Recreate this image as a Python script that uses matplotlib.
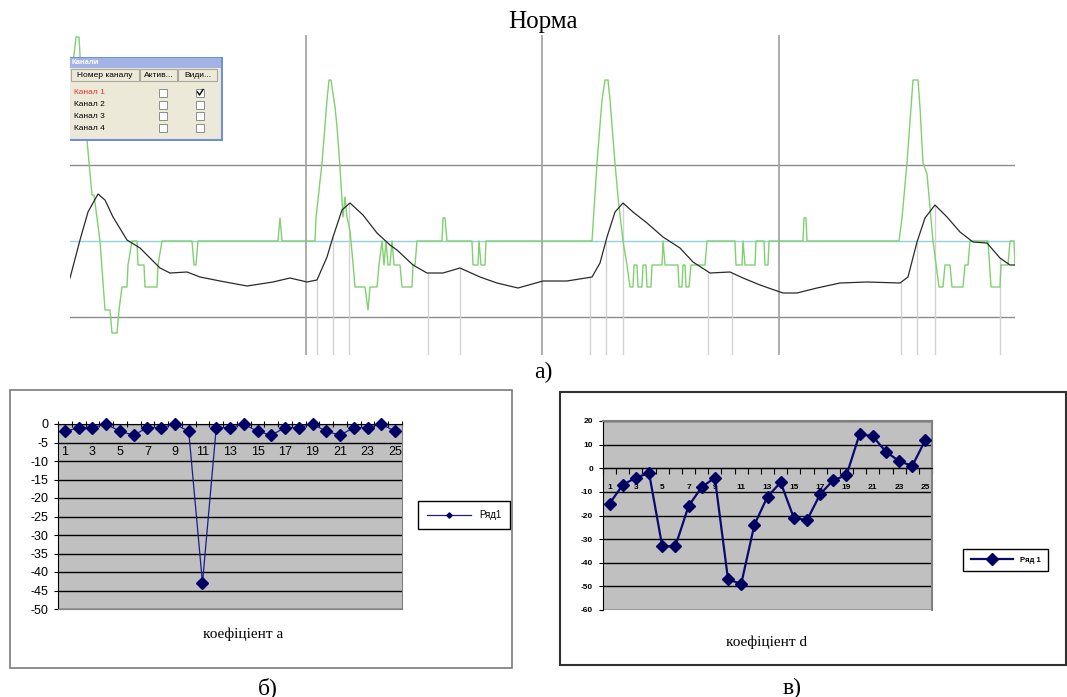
import numpy as np
import matplotlib
matplotlib.use('Agg')
import matplotlib.pyplot as plt
from matplotlib.patches import Rectangle

W, H = 1067, 697

# top record: sample index and amplitude (arbitrary units)
black_t = [0, 10, 18, 28, 35, 43, 57, 70, 80, 90, 100, 117, 130, 150, 177, 203, 220, 237,
           247, 257, 263, 272, 280, 293, 307, 320, 327, 343, 357, 373, 390, 410, 427, 448,
           473, 497, 522, 530, 537, 545, 553, 563, 577, 593, 610, 623, 640, 660, 673, 690,
           713, 727, 747, 770, 797, 830, 838, 847, 855, 865, 877, 890, 903, 917, 930, 940, 945]
black_v = [-37, 1, 29, 47, 41, 24, 1, -7, -17, -27, -32, -31, -36, -40, -45, -41, -37, -41,
           -39, -16, 4, 31, 38, 26, 8, -4, -9, -24, -32, -32, -27, -36, -42, -47,
           -40, -40, -36, -22, 4, 29, 38, 29, 18, 4, -7, -21, -32, -31, -37, -44,
           -52, -52, -47, -42, -41, -42, -36, -1, 23, 36, 24, 9, -1, -2, -17, -24, -24]

green_t = [0, 6, 9, 12, 17, 22, 24, 30, 35, 40, 42, 47, 49, 52, 57, 58, 62, 67, 68, 74, 75,
           87, 88, 92, 122, 124, 126, 128, 208, 210, 212, 245, 246, 252, 257, 259, 261, 265,
           267, 270, 273, 275, 277, 280, 283, 285, 295, 298, 300, 307, 309, 312, 314, 316,
           318, 320, 322, 324, 330, 332, 342, 343, 345, 347, 372, 373, 375, 377, 402, 403,
           408, 409, 411, 415, 416, 522, 527, 532, 535, 538, 540, 545, 548, 553, 557, 560,
           563, 564, 567, 568, 572, 573, 576, 577, 581, 582, 592, 593, 595, 608, 609, 612,
           613, 615, 616, 619, 621, 635, 637, 665, 666, 672, 673, 675, 685, 686, 694, 695,
           698, 699, 733, 734, 736, 737, 829, 832, 837, 843, 848, 850, 853, 857, 863, 869,
           873, 875, 880, 882, 893, 895, 898, 900, 918, 921, 930, 931, 938, 940, 944, 945]
green_v = [150, 204, 204, 150, 101, 46, 46, 0, -69, -69, -92, -92, -69, -46, -46, -24, 0, 0,
           -24, -24, -46, -46, -24, 0, 0, -24, -24, 0, 0, 23, 0, 0, 23, 78, 141, 161, 161,
           134, 114, 74, 24, 44, 24, 10, -22, -46, -46, -69, -46, -46, -24, 0, -24, 0, -24,
           -24, 0, -24, -24, -46, -46, -24, -24, 0, 0, 23, 23, 0, 0, -24, -24, 0, -24, -24,
           0, 0, 78, 141, 161, 161, 141, 78, 44, 0, -24, -46, -46, -24, -24, -46, -46, -24,
           -24, -46, -46, -24, -24, 0, -24, -24, -46, -46, -24, -24, -46, -46, -24, -24, 0,
           0, -24, -24, 0, -24, -24, 0, 0, -24, -24, 0, 0, 23, 23, 0, 0, 23, 78, 161, 161,
           134, 78, 67, 0, -46, -46, -24, -24, -46, -46, -24, -24, 0, 0, -46, -46, -24, -24,
           0, 0, -24]

drop_t = [247, 263, 279, 358, 390, 520, 536, 553, 638, 662, 831, 847, 865, 930]
cursor_t = [236, 472, 709]
level_v = [-76, 76]

channels = ['Канал 1', 'Канал 2', 'Канал 3', 'Канал 4']
columns = ['Номер каналу', 'Актив...', 'Види...']

num = list(range(1, 26))
coef_a = [-2, -1, -1, 0, -2, -3, -1, -1, 0, -2, -43, -1, -1, 0, -2, -3, -1, -1, 0, -2,
          -3, -1, -1, 0, -2]
coef_d = [-15, -7, -4, -2, -33, -33, -16, -8, -4, -47, -49, -24, -12, -6, -21, -22, -11,
          -5, -3, 14.5, 13.5, 7, 3, 1, 12]


def box(x0, y0, x1, y1):
    return [x0 / W, 1 - y1 / H, (x1 - x0) / W, (y1 - y0) / H]


plt.rcParams['font.family'] = ['Liberation Sans', 'DejaVu Sans']
plt.rcParams['axes.unicode_minus'] = False
serif = 'Liberation Serif'

fig = plt.figure(figsize=(W / 100, H / 100), dpi=100)

# ---- a) signal record
ax = fig.add_axes(box(70, 35, 1015, 355))
ax.set_xlim(0, 945)
ax.set_ylim(-114, 206)
ax.axis('off')
for lv in level_v:
    ax.axhline(lv, color='#8c8c8c', lw=1)
ax.axhline(0, color='#92d2dc', lw=1)
for c in cursor_t:
    ax.axvline(c, color='#a0a0a0', lw=1.2)
ax.vlines(drop_t, -114, np.interp(drop_t, black_t, black_v), color='#d2d2d2', lw=1)
ax.plot(green_t, green_v, color='#80d070', lw=1)
ax.plot(black_t, black_v, color='#2a2a2a', lw=0.9)

fig.text(543 / W, 1 - 22 / H, 'Норма', family=serif, fontsize=18, ha='center', va='center')
fig.text(543 / W, 1 - 372 / H, 'а)', family=serif, fontsize=17, ha='center', va='center')
fig.text(268 / W, 1 - 688 / H, 'б)', family=serif, fontsize=17, ha='center', va='center')
fig.text(792 / W, 1 - 688 / H, 'в)', family=serif, fontsize=17, ha='center', va='center')

# channel window
wa = fig.add_axes(box(70, 57, 223, 141))
wa.set_xlim(70, 223)
wa.set_ylim(141, 57)
wa.axis('off')
wa.add_patch(Rectangle((68, 57), 154, 83, fc='#ece9d8', ec='#6f8fd8', lw=1.5))
wa.add_patch(Rectangle((70, 58), 151, 10, fc='#a3b3e6', ec='none'))
wa.text(71, 63, 'Канали', color='white', fontsize=5.5, weight='bold', va='center')
bx = [(71, 139), (140, 177), (178, 217)]
for (x0, x1), name in zip(bx, columns):
    wa.add_patch(Rectangle((x0, 69), x1 - x0, 12, fc='#ece9d8', ec='#a8a8a0', lw=0.8))
    wa.text((x0 + x1) / 2, 75.5, name, fontsize=6, ha='center', va='center')
for i, ch in enumerate(channels):
    y = 93 + i * 11.7
    wa.text(74, y, ch, fontsize=6, va='center', color='#e8302c' if i == 0 else 'black')
    for cx in (159, 196):
        wa.add_patch(Rectangle((cx, y - 4), 8, 8, fc='white', ec='#8c8c8c', lw=0.7))
wa.plot([197.5, 199.5, 203], [92, 95, 89.5], color='black', lw=1)

# ---- б) coefficient a
fig.add_artist(Rectangle((10 / W, 1 - 668 / H), 502 / W, 278 / H, transform=fig.transFigure,
                         fill=False, ec='#7a7a7a', lw=1.2))
ax1 = fig.add_axes(box(58, 424, 402, 609))
ax1.set_facecolor('#c0c0c0')
ax1.set_xlim(0.5, 25.5)
ax1.set_ylim(-50, 0)
ax1.set_yticks(range(-50, 1, 5))
ax1.yaxis.grid(True, color='black', lw=1)
ax1.set_axisbelow(True)
ax1.xaxis.set_ticks_position('top')
ax1.set_xticks(np.arange(0.5, 26, 1))
ax1.tick_params(axis='x', labeltop=False, direction='inout', length=4, width=0.8)
ax1.tick_params(axis='y', direction='out', length=3, labelsize=9, pad=4)
for s in ['right', 'bottom']:
    ax1.spines[s].set_color('#808080')
for n in num[::2]:
    ax1.text(n, -7.6, str(n), ha='center', va='center', fontsize=9)
ax1.plot(num, coef_a, color='#1c1c8c', lw=0.9, marker='D', ms=6,
         mfc='#000066', mec='#000066', label='Ряд1', clip_on=False, zorder=5)
leg1 = ax1.legend(loc='center left', bbox_to_anchor=(418 / W, 1 - 515 / H),
                  bbox_transform=fig.transFigure, borderaxespad=0, fontsize=7,
                  handlelength=4.6, markerscale=0.45, fancybox=False, framealpha=1,
                  edgecolor='black', borderpad=0.9)
leg1.get_frame().set_linewidth(1)
fig.text(243 / W, 1 - 634 / H, 'коефіціент а', family=serif, fontsize=11,
         ha='center', va='center')

# ---- в) coefficient d
fig.add_artist(Rectangle((560 / W, 1 - 665 / H), 506 / W, 273 / H, transform=fig.transFigure,
                         fill=False, ec='#303030', lw=1.5))
ax2 = fig.add_axes(box(603, 421, 932, 610))
ax2.set_facecolor('#c0c0c0')
ax2.set_xlim(0.5, 25.5)
ax2.set_ylim(-60, 20)
ax2.set_yticks(range(-60, 21, 10))
ax2.yaxis.grid(True, color='black', lw=1)
ax2.set_axisbelow(True)
ax2.spines['bottom'].set_position(('data', 0))
ax2.spines['bottom'].set_color('black')
for s in ['top', 'right']:
    ax2.spines[s].set_color('#808080')
    ax2.spines[s].set_linewidth(1.5)
ax2.set_xticks(np.arange(0.5, 26, 1))
ax2.tick_params(axis='x', labelbottom=False, direction='out', length=4, width=0.8)
ax2.tick_params(axis='y', direction='out', length=3, labelsize=6, pad=4)
for lab in ax2.get_yticklabels():
    lab.set_fontweight('bold')
for n in num[::2]:
    ax2.text(n, -8, str(n), ha='center', va='center', fontsize=6, weight='bold')
ax2.plot(num, coef_d, color='#0a0a6e', lw=1.6, marker='D', ms=6.3,
         mfc='#000060', mec='#000060', label='Ряд 1', clip_on=False, zorder=5)
leg2 = ax2.legend(loc='center left', bbox_to_anchor=(963 / W, 1 - 560 / H),
                  bbox_transform=fig.transFigure, borderaxespad=0,
                  prop={'size': 5.5, 'weight': 'bold'}, handlelength=5.6,
                  fancybox=False, framealpha=1, edgecolor='black', borderpad=1.0)
leg2.get_frame().set_linewidth(1)
fig.text(766 / W, 1 - 642 / H, 'коефіціент d', family=serif, fontsize=11,
         ha='center', va='center')

fig.savefig('out.png', dpi=100)
